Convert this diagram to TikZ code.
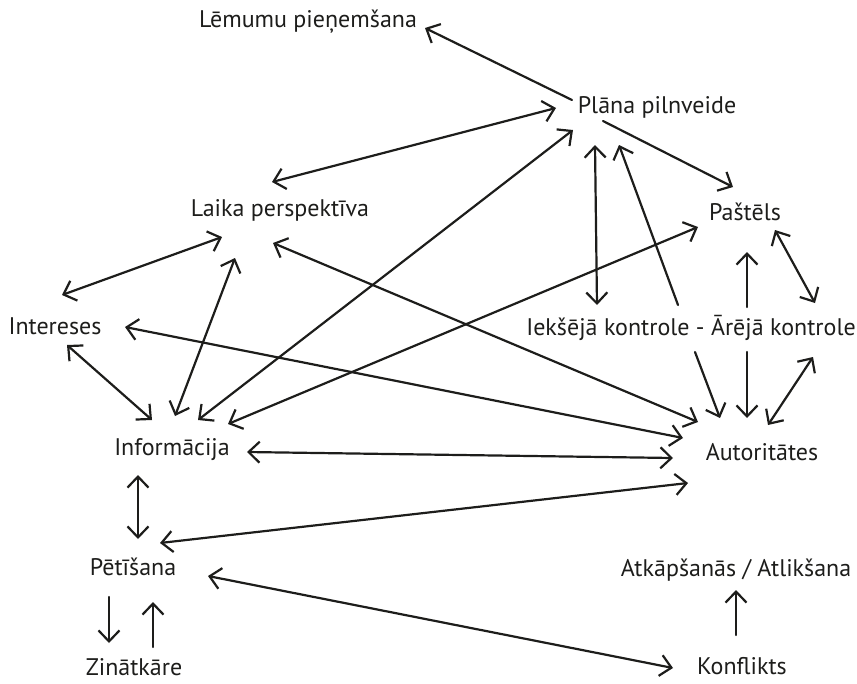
\documentclass[tikz,border=0pt]{standalone}
\usepackage{fontspec}
\setmainfont{PT Sans}
\usetikzlibrary{arrows.meta}
\definecolor{ink}{RGB}{29,29,27}
\begin{document}
\begin{tikzpicture}[x=1pt,y=-1pt,
  lbl/.style={inner sep=0pt,text=ink,font=\fontsize{24}{28}\selectfont},
  link/.style={draw=ink,line width=2.2pt,line cap=round,line join=round},
  fwd/.style={link,-{Straight Barb[length=11pt,width=21pt,line width=2.2pt]}},
  both/.style={link,{Straight Barb[length=11pt,width=21pt,line width=2.2pt]}-{Straight Barb[length=11pt,width=21pt,line width=2.2pt]}}]
\useasboundingbox (0,0) rectangle (857,683);

% concepts
\node[lbl] (lem)     at (308,22)  {Lēmumu pieņemšana};
\node[lbl] (plana)   at (657,107) {Plāna pilnveide};
\node[lbl] (laika)   at (280,210) {Laika perspektīva};
\node[lbl] (pastels) at (745,212) {Paštēls};
\node[lbl] (inter)   at (55,326)  {Intereses};
\node[lbl] (kontr)   at (691,328) {Iekšējā kontrole - Ārējā kontrole};
\node[lbl] (info)    at (172,450) {Informācija};
\node[lbl] (auto)    at (762,452) {Autoritātes};
\node[lbl] (pet)     at (133,567) {Pētīšana};
\node[lbl] (atk)     at (736,570) {Atkāpšanās / Atlikšana};
\node[lbl] (zin)     at (134,667) {Zinātkāre};
\node[lbl] (konf)    at (742,666) {Konflikts};

% relations
\draw[fwd]  ([shift={(-85,-7)}]plana.center) -- ([shift={(117,6)}]lem.center);
\draw[both] ([shift={(-8,-28)}]laika.center) -- ([shift={(-101,1)}]plana.center);
\draw[fwd]  ([shift={(-54,14)}]plana.center) -- ([shift={(-12,-25)}]pastels.center);
\draw[both] ([shift={(-62,38)}]plana.center) -- ([shift={(-94,-23)}]kontr.center);
\draw[fwd]  ([shift={(-13,-23)}]kontr.center) -- ([shift={(-38,38)}]plana.center);
\draw[both] ([shift={(26,-30)}]info.center) -- ([shift={(-84,23)}]plana.center);
\draw[both] ([shift={(56,-26)}]info.center) -- ([shift={(-47,15)}]pastels.center);
\draw[both] ([shift={(30,18)}]pastels.center) -- ([shift={(124,-25)}]kontr.center);
\draw[fwd]  ([shift={(56,-21)}]kontr.center) -- ([shift={(2,40)}]pastels.center);
\draw[fwd]  ([shift={(56,24)}]kontr.center) -- ([shift={(-15,-34)}]auto.center);
\draw[fwd]  ([shift={(4,24)}]kontr.center) -- ([shift={(-42,-34)}]auto.center);
\draw[both] ([shift={(122,29)}]kontr.center) -- ([shift={(6,-27)}]auto.center);
\draw[both] ([shift={(-7,33)}]laika.center) -- ([shift={(-64,-30)}]auto.center);
\draw[both] ([shift={(70,1)}]inter.center) -- ([shift={(-79,-14)}]auto.center);
\draw[both] ([shift={(75,2)}]info.center) -- ([shift={(-89,6)}]auto.center);
\draw[both] ([shift={(27,-24)}]pet.center) -- ([shift={(-74,31)}]auto.center);
\draw[both] ([shift={(-45,48)}]laika.center) -- ([shift={(3,-34)}]info.center);
\draw[both] ([shift={(-58,27)}]laika.center) -- ([shift={(7,-31)}]inter.center);
\draw[both] ([shift={(12,19)}]inter.center) -- ([shift={(-20,-30)}]info.center);
\draw[both] ([shift={(-34,25)}]info.center) -- ([shift={(5,-28)}]pet.center);
\draw[fwd]  ([shift={(-24,30)}]pet.center) -- ([shift={(-25,-24)}]zin.center);
\draw[fwd]  ([shift={(19,-20)}]zin.center) -- ([shift={(20,35)}]pet.center);
\draw[both] ([shift={(75,9)}]pet.center) -- ([shift={(-69,2)}]konf.center);
\draw[fwd]  ([shift={(-6,-31)}]konf.center) -- ([shift={(0,20)}]atk.center);
\end{tikzpicture}
\end{document}
